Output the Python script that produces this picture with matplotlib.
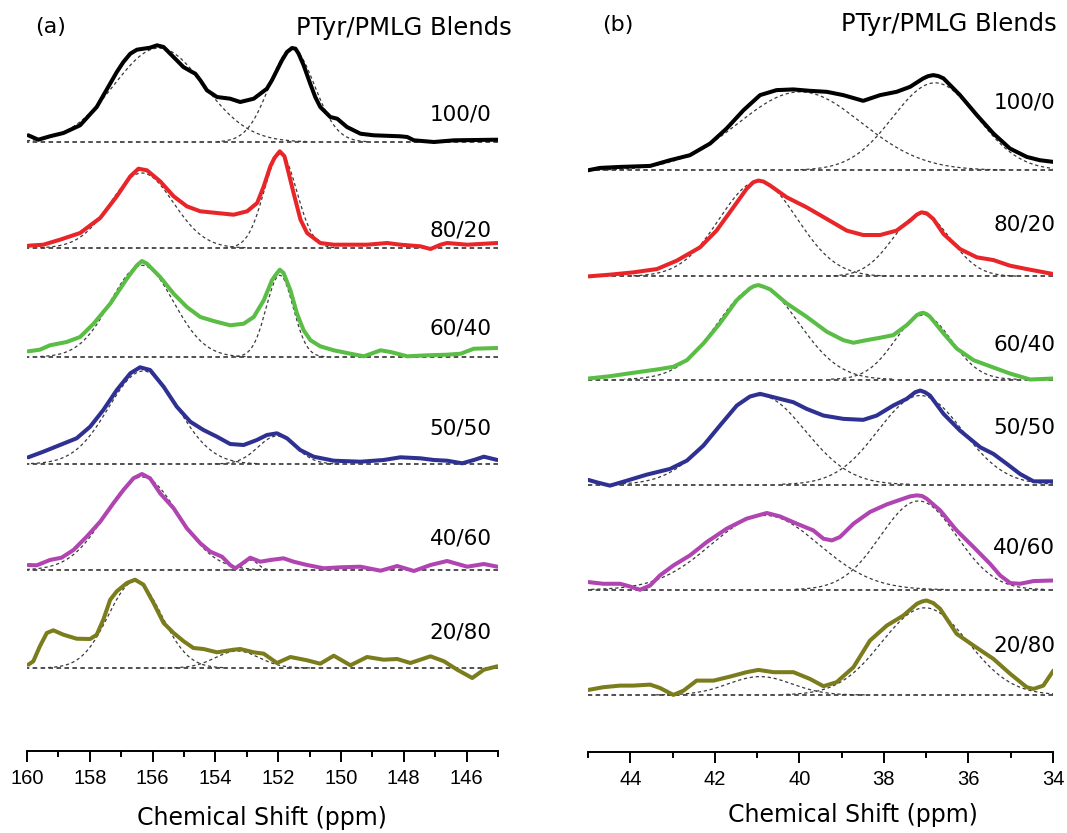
import numpy as np
import matplotlib
matplotlib.use("Agg")
import matplotlib.pyplot as plt
from matplotlib.ticker import MultipleLocator

plt.rcParams['font.family'] = ['DejaVu Sans']

# ---------------- data ----------------
labels = ['100/0', '80/20', '60/40', '50/50', '40/60', '20/80']
colors = ['#000000', '#e8262a', '#5abd45', '#2e3192', '#b045b2', '#7b7c1c']

# Panel (a): 160-145 ppm region (intensity in arbitrary units)
a_x_100_0 = [159.96,159.64,159.27,158.84,158.31,157.78,157.14,156.93,156.71,156.50,156.29,156.08,155.86,155.65,155.44,155.23,155.02,154.80,154.64,154.48,154.27,153.95,153.53,153.21,152.78,152.36,152.20,152.04,151.88,151.72,151.56,151.45,151.35,151.19,150.98,150.82,150.66,150.34,150.12,149.81,149.38,148.96,148.11,147.89,147.68,147.04,146.40,145.02]
a_y_100_0 = [6.7,2.3,5.7,9,16.7,35,70,80,88.3,92.3,93.3,94.3,96.7,95,88.3,81.7,75,71,68.3,61.7,51.7,45,43.3,40,43.3,53.3,61.7,71.7,81.7,90,94,93.3,88.3,76.7,58.3,45,35,25,23.3,15,8.3,6.7,5.7,5,1.7,0,1.7,2.3]
a_x_80_20 = [159.96,159.48,158.95,158.31,157.67,157.14,156.71,156.45,156.18,155.76,155.33,154.91,154.48,153.95,153.42,152.99,152.67,152.46,152.25,152.12,151.95,151.80,151.72,151.51,151.29,151.08,150.66,150.23,149.17,148.53,148.11,147.47,147.15,146.83,146.62,145.98,145.02]
a_y_80_20 = [2.3,3.3,8.3,15,30,51.7,71.7,79.3,77.7,66.7,51.7,41.7,36.7,35,33.3,36.7,45,61.7,81.7,90,96.7,91.7,81.7,55,28.3,15,5,3.3,3.3,5,3.3,1.7,-1,3.3,5,3.3,5]
a_x_60_40 = [159.96,159.59,159.27,158.74,158.31,157.88,157.35,156.82,156.50,156.34,156.18,155.76,155.33,154.91,154.48,154.06,153.53,153.10,152.78,152.46,152.20,152.09,151.95,151.83,151.61,151.40,151.19,150.97,150.66,150.23,149.70,149.27,148.74,148.42,147.89,147.25,146.62,146.19,145.77,145.02]
a_y_60_40 = [5.7,7.3,11.7,15,20,33.3,53.3,78.3,91.7,96,93.3,80,63.3,50,40,36,31.7,33.3,40,56.7,76.7,81.7,87.3,84,66.7,43.3,26.7,16.7,10.7,6.7,3.3,0.7,6.7,5,0.7,1.7,2.3,3.3,8.3,9]
a_x_50_50 = [159.96,159.48,158.95,158.42,157.99,157.57,157.14,156.71,156.40,156.08,155.65,155.23,154.80,154.38,153.95,153.53,153.10,152.68,152.36,152.04,151.72,151.30,150.87,150.23,149.38,148.64,148.11,147.47,147.04,146.62,146.14,145.77,145.45,145.02]
a_y_50_50 = [6.7,12.3,19,25.7,37.3,54,74,90.7,96.7,94,77.3,57.3,42.3,34,27.3,20,19,24,29,30.7,25.7,14,7.3,3.3,2.3,4,6.7,5.7,4,3.3,0.7,4,7.3,4]
a_x_40_60 = [159.96,159.69,159.27,158.90,158.52,158.10,157.67,157.25,156.93,156.61,156.34,156.08,155.76,155.33,154.91,154.48,154.16,153.79,153.53,153.37,153.21,152.89,152.57,152.25,151.83,151.51,151.08,150.55,150.02,149.38,148.74,148.21,147.68,147.15,146.62,145.98,145.45,145.02]
a_y_40_60 = [5,4.7,10,12.3,20,33.3,48.3,66.7,80,91.7,96,91.7,76.7,61.7,41.7,26.7,18.3,13.3,5,1.7,5,12.3,8.3,10,11.7,8.3,5,1.7,2.7,3.3,-0.7,4,-1,5,9,3.3,6,3.3]
a_x_20_80 = [159.96,159.80,159.59,159.37,159.16,158.84,158.42,157.99,157.78,157.57,157.35,157.14,156.82,156.56,156.29,155.97,155.65,155.33,155.01,154.70,154.38,153.95,153.42,153.21,152.78,152.46,152.04,151.61,151.08,150.66,150.23,149.70,149.17,148.64,148.21,147.79,147.15,146.72,146.30,145.82,145.45,145.02]
a_y_20_80 = [3.3,6.7,21.7,35,37.7,33.3,29.3,29,33.3,48.3,68.3,76.7,85,88.3,83.3,65,45,35,26.7,20,19,15.7,18.3,19,15.7,14.3,5,11,7.7,4.3,12.3,2.7,11,8.3,9,5,11.7,6.7,-1.7,-10,-1.7,1.7]

# fitted components (center ppm, height, sigma ppm)
a_fit_100_0 = [(155.8, 94, 1.43), (151.56, 93, 0.72)]
a_fit_80_20 = [(156.34, 75, 1.0), (151.93, 94, 0.52)]
a_fit_60_40 = [(156.34, 91.7, 1.0), (151.95, 81.7, 0.43)]
a_fit_50_50 = [(156.3, 93, 1.1), (152.04, 28, 0.6)]
a_fit_40_60 = [(156.34, 93, 1.15), (152.87, 10, 0.22)]
a_fit_20_80 = [(156.56, 86.7, 0.85), (153.3, 17, 0.7)]

# Panel (b): 45-34 ppm region
b_x_100_0 = [44.99,44.72,44.24,43.53,43.06,42.59,42.11,41.72,41.32,40.93,40.54,40.14,39.75,39.35,38.96,38.49,38.09,37.70,37.38,37.07,36.95,36.83,36.71,36.59,36.20,35.80,35.41,35.02,34.62,34.31,33.99]
b_y_100_0 = [0,2.3,3.3,4.3,10,15,26.7,41.7,60,75,80,80.7,79.3,78.3,75,69.3,75,78.3,83.3,91.7,94,95,94,91.7,75,55,36.7,21.7,13.3,10,8.3]
b_x_80_20 = [44.99,44.48,43.93,43.37,42.90,42.35,41.96,41.56,41.25,41.09,40.97,40.85,40.69,40.30,39.83,39.35,38.88,38.49,38.09,37.70,37.38,37.22,37.11,36.99,36.83,36.59,36.20,35.80,35.41,35.02,34.62,33.99]
b_y_80_20 = [0,1.7,4,7.3,15.7,29,45.7,69,87.3,94,95.7,94.7,90.7,79,69,57.3,45.7,41.3,41.3,45.7,55.7,61.7,64,63,57.3,42.3,27.3,19,16.3,10.7,7.3,2.3]
b_x_60_40 = [44.99,44.48,43.93,43.37,42.98,42.66,42.27,41.88,41.48,41.17,41.07,40.97,40.85,40.69,40.30,39.83,39.35,38.96,38.72,38.41,38.09,37.78,37.46,37.22,37.14,37.07,36.99,36.91,36.59,36.28,35.88,35.41,35.02,34.54,33.99]
b_y_60_40 = [1,3.3,6.7,10,12.7,19.3,36,56,79.3,91,93.3,94.3,92.7,90,76,62.7,47.7,39.3,36.7,39.3,41.7,44.3,54.3,64.3,66,66.7,65.3,62.7,46,31,19.3,12,6,0,1]
b_x_50_50 = [44.99,44.79,44.48,44.08,43.61,43.06,42.66,42.27,41.88,41.48,41.17,40.93,40.61,40.14,39.83,39.43,38.96,38.49,38.17,37.78,37.46,37.26,37.14,37.03,36.91,36.59,36.20,35.72,35.41,35.09,34.78,34.46,33.99]
b_y_50_50 = [4.7,2.3,-1,4,10,15.7,24,39,59,79,88,90.7,87.3,82.3,75.7,69,65.7,64.7,69,79,85.7,92.3,94,92.3,89,70.7,54,37.3,30.7,20.7,10.7,3.3,3.3]
b_x_40_60 = [44.99,44.64,44.24,44.01,43.77,43.53,43.30,42.98,42.59,42.19,41.72,41.25,40.77,40.46,40.06,39.67,39.43,39.23,39.04,38.72,38.33,37.93,37.54,37.38,37.22,37.10,36.99,36.67,36.28,35.88,35.49,35.25,35.01,34.78,34.46,33.99]
b_y_40_60 = [7.7,6,6,3.3,0,4.3,14.3,24.3,34.3,47.7,61,71,76.7,73.3,66,59.3,51,49.3,52.7,66,77.7,85.3,91,93.3,94.3,93.7,91,79.3,59.3,42.7,26,14.3,6.7,6,8.7,9.3]
b_x_20_80 = [44.99,44.64,44.24,43.93,43.53,43.30,42.98,42.74,42.43,42.03,41.64,41.25,40.97,40.61,40.14,39.75,39.43,39.12,38.72,38.33,37.93,37.54,37.22,37.10,36.99,36.83,36.67,36.28,35.88,35.41,35.01,34.62,34.46,34.23,33.99]
b_y_20_80 = [5,7.7,9.3,9.3,10.3,7,0,4.3,14.3,14.3,18.3,22.7,25,22.7,22.7,16,8.7,12.7,27.7,54.3,69.3,79.3,91,93.3,94.3,91.7,86,61,49.3,36,21,7.7,6,9.3,24.3]

b_fit_100_0 = [(39.98, 78.3, 1.45), (36.79, 87.3, 1.0)]
b_fit_80_20 = [(40.97, 95, 0.92), (37.11, 62.3, 0.68)]
b_fit_60_40 = [(40.97, 93, 0.96), (37.07, 64.3, 0.67)]
b_fit_50_50 = [(40.93, 89, 1.07), (37.14, 89, 1.0)]
b_fit_40_60 = [(40.81, 74.3, 1.28), (37.18, 88.7, 0.9)]
b_fit_20_80 = [(40.93, 18.3, 0.75), (37.03, 87, 1.02)]

# vertical stacking offsets
a_offsets = [609, 503, 394, 287, 181, 83]
b_offsets = [581, 475, 372, 267, 162, 57]
a_label_y = [636, 521, 423, 323, 213, 118]
b_label_y = [649, 527, 407, 324, 204, 106]

a_spectra = [(a_x_100_0, a_y_100_0), (a_x_80_20, a_y_80_20), (a_x_60_40, a_y_60_40),
             (a_x_50_50, a_y_50_50), (a_x_40_60, a_y_40_60), (a_x_20_80, a_y_20_80)]
a_fits = [a_fit_100_0, a_fit_80_20, a_fit_60_40, a_fit_50_50, a_fit_40_60, a_fit_20_80]
b_spectra = [(b_x_100_0, b_y_100_0), (b_x_80_20, b_y_80_20), (b_x_60_40, b_y_60_40),
             (b_x_50_50, b_y_50_50), (b_x_40_60, b_y_40_60), (b_x_20_80, b_y_20_80)]
b_fits = [b_fit_100_0, b_fit_80_20, b_fit_60_40, b_fit_50_50, b_fit_40_60, b_fit_20_80]

# ---------------- figure ----------------
W, H = 1067, 833
fig = plt.figure(figsize=(W / 100, H / 100), dpi=100)

def px_axes(left, right, bottom_px):
    return fig.add_axes([left / W, 1 - bottom_px / H, (right - left) / W, bottom_px / H])

ax_a = px_axes(27, 498, 751)
ax_b = px_axes(588, 1053, 752)


def draw_panel(ax, spectra, fits, offsets, label_y, xlim, label_x, major, minor):
    ax.set_xlim(*xlim)
    ax.set_ylim(0, 751)
    lo, hi = min(xlim), max(xlim)
    for (xs, ys), fit, off, ly, lab, col in zip(spectra, fits, offsets, label_y, labels, colors):
        # baseline
        ax.plot([lo, hi], [off, off], color='#222222', lw=1.1,
                dashes=(3, 2.2), zorder=2)
        # fitted components
        for c, h, s in fit:
            xx = np.linspace(c - 3.3 * s, c + 3.3 * s, 200)
            ax.plot(xx, off + h * np.exp(-(xx - c) ** 2 / (2 * s * s)),
                    color='#3a3a3a', lw=0.9, dashes=(2.6, 2.2), zorder=3)
        # spectrum
        ax.plot(xs, np.asarray(ys) + off, color=col, lw=2.9,
                solid_joinstyle='round', solid_capstyle='round', zorder=4)
        ax.text(label_x, ly, lab, ha='right', va='center', fontsize=15.5)
    for s in ['top', 'left', 'right']:
        ax.spines[s].set_visible(False)
    ax.spines['bottom'].set_linewidth(1.4)
    ax.set_yticks([])
    ax.xaxis.set_major_locator(MultipleLocator(major))
    ax.xaxis.set_minor_locator(MultipleLocator(minor))
    ax.tick_params(axis='x', which='major', length=8, width=1.4, labelsize=14.5, pad=5,
                   labelfontfamily='Liberation Sans')
    ax.tick_params(axis='x', which='minor', length=4.5, width=1.4)
    ax.patch.set_alpha(0)


draw_panel(ax_a, a_spectra, a_fits, a_offsets, a_label_y, (160, 145), 145.2, 2, 1)
draw_panel(ax_b, b_spectra, b_fits, b_offsets, b_label_y, (45, 34), 33.95, 2, 1)

fig.text(35 / W, 1 - 27 / H, '(a)', ha='left', va='center', fontsize=16)
fig.text(512 / W, 1 - 28 / H, 'PTyr/PMLG Blends', ha='right', va='center', fontsize=17.5)
fig.text(602 / W, 1 - 25 / H, '(b)', ha='left', va='center', fontsize=16)
fig.text(1057 / W, 1 - 24 / H, 'PTyr/PMLG Blends', ha='right', va='center', fontsize=17.5)
fig.text(262 / W, 1 - 818 / H, 'Chemical Shift (ppm)', ha='center', va='center', fontsize=17)
fig.text(853 / W, 1 - 815 / H, 'Chemical Shift (ppm)', ha='center', va='center', fontsize=17)

fig.savefig('out.png', dpi=100)
